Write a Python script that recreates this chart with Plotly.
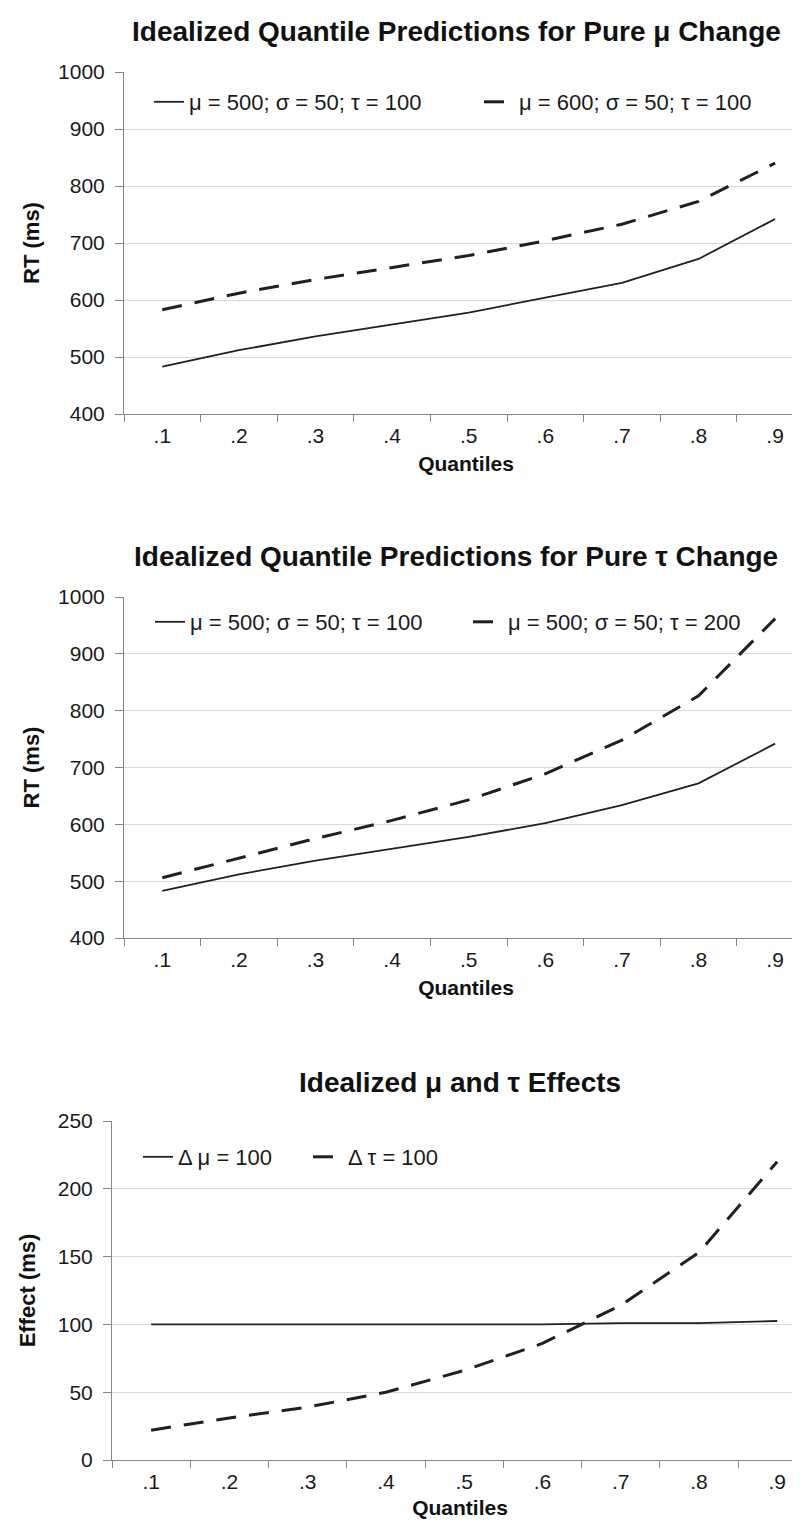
import plotly.graph_objects as go

quantiles = [".1", ".2", ".3", ".4", ".5", ".6", ".7", ".8", ".9"]

# Chart 1: pure mu change
mu500 = [483, 512, 536, 557, 578, 604, 630, 672, 742]
mu600 = [583, 612, 636, 657, 678, 704, 733, 773, 840]

# Chart 2: pure tau change
tau100 = [483, 512, 536, 557, 578, 602, 634, 672, 742]
tau200 = [506, 541, 575, 607, 643, 689, 748, 826, 962]

# Chart 3: effects
d_mu = [100, 100, 100, 100, 100, 100, 101, 101, 102.5]
d_tau = [22, 31, 39, 50, 66, 86, 114, 153, 220]

titles = ["Idealized Quantile Predictions for Pure \u03bc Change",
          "Idealized Quantile Predictions for Pure \u03c4 Change",
          "Idealized \u03bc and \u03c4 Effects"]
legend_names = [
    ["\u03bc = 500; \u03c3 = 50; \u03c4 = 100", "\u03bc = 600; \u03c3 = 50; \u03c4 = 100"],
    ["\u03bc = 500; \u03c3 = 50; \u03c4 = 100", "\u03bc = 500; \u03c3 = 50; \u03c4 = 200"],
    ["\u0394 \u03bc = 100", "\u0394 \u03c4 = 100"],
]
ytitles = ["RT (ms)", "RT (ms)", "Effect (ms)"]
yranges = [[400, 1000], [400, 1000], [0, 250]]
ydticks = [100, 100, 50]

W, H = 800, 1526
FONT = "Liberation Sans, Arial, sans-serif"
LINE = "#231f20"
GRID = "#d9d9d9"
AXIS = "#868686"
TXT = "#1a1a1a"

# pixel layout for each panel: (left, top, bottom, px per category)
panels = [(116, 64, 406, 76.6), (116, 589, 930, 76.6), (104, 1113, 1452, 78.25)]
legend_pos = [(141, 94), (142, 614), (130, 1149)]
legend_entry = [285, 273, 125]
title_pos = [(448, 24), (448, 548), (452, 1074)]
ytitle_standoff = [12, 12, 16]
xtitle_standoff = [10, 10, 8]

series = [(mu500, mu600), (tau100, tau200), (d_mu, d_tau)]

fig = go.Figure()
for i in range(3):
    s_solid, s_dash = series[i]
    ax = "" if i == 0 else str(i + 1)
    leg = "legend" if i == 0 else f"legend{i + 1}"
    fig.add_trace(go.Scatter(x=quantiles, y=s_solid, mode="lines", name=legend_names[i][0],
                             line=dict(color=LINE, width=1.8), xaxis="x" + ax, yaxis="y" + ax,
                             legend=leg))
    fig.add_trace(go.Scatter(x=quantiles, y=s_dash, mode="lines", name=legend_names[i][1],
                             line=dict(color=LINE, width=3, dash="20px,13px"), xaxis="x" + ax,
                             yaxis="y" + ax, legend=leg))

layout = dict(
    width=W, height=H, margin=dict(l=0, r=0, t=0, b=0, autoexpand=False),
    paper_bgcolor="white", plot_bgcolor="white",
    font=dict(family=FONT, color=TXT, size=21),
    annotations=[], showlegend=True,
)

for i in range(3):
    left, top, bottom, ppc = panels[i]
    ax = "" if i == 0 else str(i + 1)
    xr = [-0.5, -0.5 + (W - left) / ppc]
    layout["xaxis" + ax] = dict(
        type="category", domain=[left / W, 1], anchor="y" + ax, range=xr,
        tickson="boundaries", ticks="outside", ticklen=7, tickcolor=AXIS,
        showline=True, linecolor=AXIS, linewidth=1, showgrid=False, zeroline=False,
        automargin=False, ticklabelstandoff=3,
        tickfont=dict(size=21, family=FONT, color=TXT),
        title=dict(text="<b>Quantiles</b>", font=dict(size=21, family=FONT, color="#111111"),
                   standoff=xtitle_standoff[i]),
    )
    layout["yaxis" + ax] = dict(
        domain=[1 - bottom / H, 1 - top / H], anchor="x" + ax, range=yranges[i],
        dtick=ydticks[i], ticks="outside", ticklen=8, tickcolor=AXIS,
        showline=True, linecolor=AXIS, linewidth=1, showgrid=True, gridcolor=GRID,
        gridwidth=1, zeroline=False, automargin=False, ticklabelstandoff=6,
        tickfont=dict(size=21, family=FONT, color=TXT),
        title=dict(text="<b>" + ytitles[i] + "</b>", font=dict(size=22, family=FONT, color="#111111"),
                   standoff=ytitle_standoff[i]),
    )
    lx, ly = legend_pos[i]
    layout["legend" if i == 0 else f"legend{i + 1}"] = dict(
        orientation="h", x=lx / W, y=1 - ly / H, xanchor="left", yanchor="middle",
        bgcolor="rgba(0,0,0,0)", font=dict(size=22, family=FONT, color=TXT),
        entrywidth=legend_entry[i], entrywidthmode="pixels",
    )
    tx, ty = title_pos[i]
    layout["annotations"].append(dict(
        text="<b>" + titles[i] + "</b>", x=tx / W, y=1 - ty / H, xref="paper", yref="paper",
        xanchor="center", yanchor="middle", showarrow=False,
        font=dict(size=28, family=FONT, color="#111111"),
    ))

fig.update_layout(**layout)
fig.write_html("out.html")
